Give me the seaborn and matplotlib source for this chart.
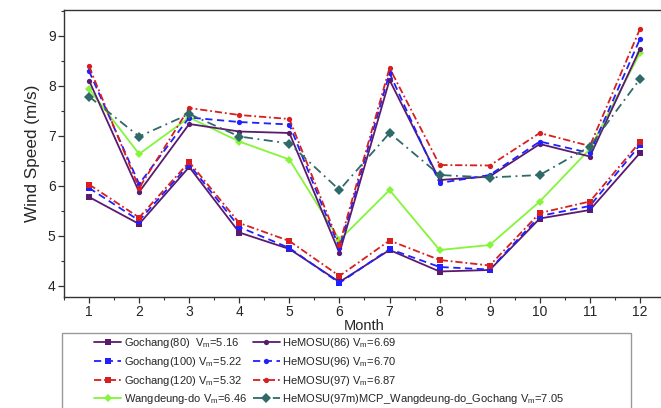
import matplotlib
matplotlib.use("Agg")
import matplotlib.pyplot as plt
from matplotlib.patches import Rectangle
from matplotlib.ticker import MultipleLocator
import seaborn as sns
import pandas as pd

months = [1, 2, 3, 4, 5, 6, 7, 8, 9, 10, 11, 12]
gochang80 = [5.77, 5.23, 6.37, 5.06, 4.73, 4.07, 4.71, 4.28, 4.31, 5.34, 5.51, 6.65]
gochang100 = [5.95, 5.30, 6.42, 5.17, 4.75, 4.05, 4.73, 4.37, 4.32, 5.39, 5.59, 6.81]
gochang120 = [6.02, 5.36, 6.47, 5.25, 4.89, 4.19, 4.90, 4.51, 4.40, 5.45, 5.68, 6.87]
wangdeung = [7.93, 6.63, 7.36, 6.88, 6.52, 4.91, 5.91, 4.71, 4.81, 5.68, 6.73, 8.65]
hemosu86 = [8.10, 5.87, 7.23, 7.08, 7.05, 4.65, 8.11, 6.11, 6.18, 6.83, 6.58, 8.73]
hemosu96 = [8.29, 6.03, 7.36, 7.27, 7.22, 4.75, 8.25, 6.05, 6.21, 6.88, 6.65, 8.93]
hemosu97 = [8.38, 5.95, 7.55, 7.41, 7.33, 4.82, 8.35, 6.41, 6.40, 7.05, 6.79, 9.13]
mcp = [7.78, 6.98, 7.43, 6.98, 6.84, 5.91, 7.05, 6.21, 6.16, 6.21, 6.78, 8.13]

labels = [
    "Gochang(80)  V$_\\mathregular{m}$=5.16",
    "Gochang(100) V$_\\mathregular{m}$=5.22",
    "Gochang(120) V$_\\mathregular{m}$=5.32",
    "Wangdeung-do V$_\\mathregular{m}$=6.46",
    "HeMOSU(86) V$_\\mathregular{m}$=6.69",
    "HeMOSU(96) V$_\\mathregular{m}$=6.70",
    "HeMOSU(97) V$_\\mathregular{m}$=6.87",
    "HeMOSU(97m)MCP_Wangdeung-do_Gochang V$_\\mathregular{m}$=7.05",
]
series = [gochang80, gochang100, gochang120, wangdeung, hemosu86, hemosu96, hemosu97, mcp]

purple = "#5a1a6e"
blue = "#1f1fff"
red = "#d81e1e"
green = "#84f53a"
teal = "#2f6a68"
styles = [
    dict(color=purple, ls="-", marker="s", ms=4.2),
    dict(color=blue, ls=(0, (4, 2.5)), marker="s", ms=4.2),
    dict(color=red, ls=(0, (4, 1.6, 1, 1.6)), marker="s", ms=4.2),
    dict(color=green, ls="-", marker="D", ms=4.2),
    dict(color=purple, ls="-", marker="o", ms=3.8),
    dict(color=blue, ls=(0, (4, 2.5)), marker="o", ms=3.8),
    dict(color=red, ls=(0, (4, 1.6, 1, 1.6)), marker="o", ms=3.8),
    dict(color=teal, ls=(0, (5, 2.5, 1, 2.5)), marker="D", ms=4.6),
]

sns.set_theme(style="white")
plt.rcParams["font.family"] = ["Liberation Sans", "DejaVu Sans"]
plt.rcParams["mathtext.fontset"] = "custom"
plt.rcParams["mathtext.rm"] = "Liberation Sans"

fig = plt.figure(figsize=(6.61, 4.08), dpi=100)
ax = fig.add_axes([64 / 661, 111 / 408, 601 / 661, 287 / 408])

handles = []
for vals, lab, st in zip(series, labels, styles):
    df = pd.DataFrame({"Month": months, "v": vals})
    sns.lineplot(data=df, x="Month", y="v", ax=ax, color=st["color"],
                 linestyle=st["ls"], marker=st["marker"], markersize=st["ms"],
                 markeredgewidth=0, linewidth=1.3, label=lab, legend=False)
    handles.append(ax.get_lines()[-1])

ax.set_xlim(0.5, 12.5)
ax.set_ylim(3.77, 9.51)
ax.set_xticks(months)
ax.set_yticks([4, 5, 6, 7, 8, 9])
ax.xaxis.set_minor_locator(MultipleLocator(0.5))
ax.yaxis.set_minor_locator(MultipleLocator(0.5))
ax.tick_params(axis="both", which="major", direction="out", length=4, width=0.9,
               color="#333333", labelsize=10, pad=2, bottom=True, left=True)
ax.tick_params(axis="both", which="minor", direction="out", length=2.5, width=0.8,
               color="#333333", bottom=True, left=True)
for side in ["left", "bottom", "top"]:
    ax.spines[side].set_color("#333333")
    ax.spines[side].set_linewidth(1.0)
ax.spines["right"].set_visible(False)
ax.set_xlabel("Month", fontsize=10.5, labelpad=0)
ax.set_ylabel("Wind Speed (m/s)", fontsize=12.3, labelpad=6)

# legend frame (Origin style box)
fig.patches.append(Rectangle((62 / 661, -0.05), (631 - 62) / 661, (1 - 333 / 408) + 0.05,
                             transform=fig.transFigure, fill=False,
                             edgecolor="#999999", linewidth=1.0))
leg = fig.legend(handles=handles, labels=labels, ncol=2, loc="upper left",
                 bbox_to_anchor=(92 / 661, 1 - 334 / 408), frameon=False,
                 fontsize=8, handlelength=2.4, handletextpad=0.25,
                 columnspacing=0.55, labelspacing=0.42, borderaxespad=0,
                 borderpad=0.2)

fig.savefig("out.png", dpi=100)
